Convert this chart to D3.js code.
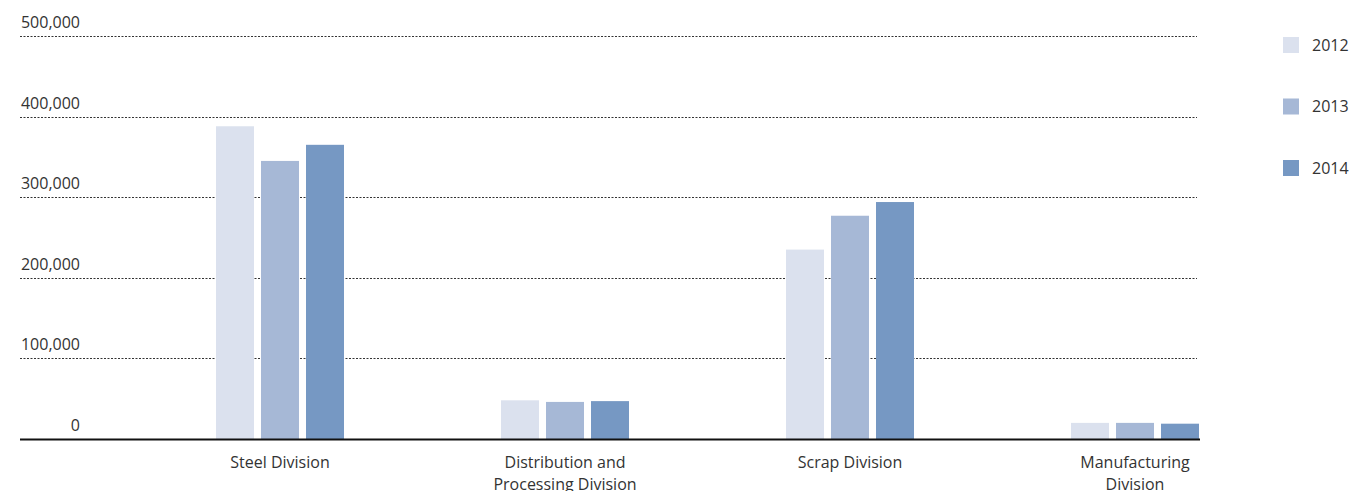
<!doctype html>
<html>
<head>
<meta charset="UTF-8">
<script src="https://d3js.org/d3.v7.min.js"></script>
<style>
  body { margin: 0; background: #fff; }
  text { font-family: "Open Sans", sans-serif; fill: #333; }
</style>
</head>
<body>
<div id="chart"></div>
<script>
// data
var divisions = ["Steel Division", "Distribution and Processing Division", "Scrap Division", "Manufacturing Division"];
var divisionLines = [["Steel Division"], ["Distribution and", "Processing Division"], ["Scrap Division"], ["Manufacturing", "Division"]];
var years = ["2012", "2013", "2014"];
var values2012 = [388000, 48000, 235000, 20000];
var values2013 = [345000, 46000, 277000, 20000];
var values2014 = [365000, 47000, 294000, 19000];
var yTicks = [0, 100000, 200000, 300000, 400000, 500000];
var colors = ["#dbe1ee", "#a6b8d6", "#7698c3"];

var series = [values2012, values2013, values2014];

var width_total = 1352, height_total = 491;

var svg = d3.select("#chart")
  .append("svg")
    .attr("width", width_total)
    .attr("height", height_total);

// y scale : baseline at 439, 500,000 at 36
var y = d3.scaleLinear()
  .domain([0, 500000])
  .range([439, 36]);

// x scale for the divisions
var x = d3.scaleBand()
  .domain(divisions)
  .range([137.5, 1277.5]);

// x scale inside a group
var xs = d3.scaleBand()
  .domain(years)
  .range([-64, 64])
  .paddingInner(7 / 45);

// dotted grid lines
svg.append("g")
  .selectAll("line")
  .data(yTicks.filter(d => d > 0))
  .enter()
  .append("line")
    .attr("x1", 20)
    .attr("x2", 1197)
    .attr("y1", d => Math.round(y(d)) + 0.5)
    .attr("y2", d => Math.round(y(d)) + 0.5)
    .attr("stroke", "#333")
    .attr("stroke-width", 1)
    .attr("stroke-dasharray", "2,1.5");

// y labels
svg.append("g")
  .selectAll("text")
  .data(yTicks)
  .enter()
  .append("text")
    .attr("x", 80)
    .attr("y", d => y(d) - 8)
    .attr("text-anchor", "end")
    .style("font-size", "16px")
    .text(d => d3.format(",")(d));

// bars
var groups = svg.append("g")
  .selectAll("g")
  .data(divisions)
  .enter()
  .append("g")
    .attr("transform", d => "translate(" + (x(d) + x.bandwidth() / 2) + ",0)");

groups.selectAll("rect")
  .data((d, i) => years.map((yr, j) => ({year: yr, value: series[j][i], color: colors[j]})))
  .enter()
  .append("rect")
    .attr("x", d => xs(d.year))
    .attr("width", xs.bandwidth())
    .attr("y", d => y(d.value))
    .attr("height", d => y(0) - y(d.value))
    .attr("fill", d => d.color);

// baseline
svg.append("line")
  .attr("x1", 20)
  .attr("x2", 1200)
  .attr("y1", y(0) + 0.5)
  .attr("y2", y(0) + 0.5)
  .attr("stroke", "#111")
  .attr("stroke-width", 2);

// x labels (the second line is cut by the bottom edge, as in the original)
groups.append("text")
  .attr("text-anchor", "middle")
  .attr("y", 468)
  .style("font-size", "16px")
  .selectAll("tspan")
  .data((d, i) => divisionLines[i])
  .enter()
  .append("tspan")
    .attr("x", 0)
    .attr("dy", (d, i) => i == 0 ? 0 : 22)
    .text(d => d);

// legend
var legend = svg.append("g")
  .selectAll("g")
  .data(years)
  .enter()
  .append("g")
    .attr("transform", (d, i) => "translate(1283," + (37 + i * 61.5) + ")");

legend.append("rect")
  .attr("width", 16)
  .attr("height", 16)
  .attr("fill", (d, i) => colors[i]);

legend.append("text")
  .attr("x", 29)
  .attr("y", 8)
  .attr("dy", "0.35em")
  .style("font-size", "16px")
  .text(d => d);
</script>
</body>
</html>
